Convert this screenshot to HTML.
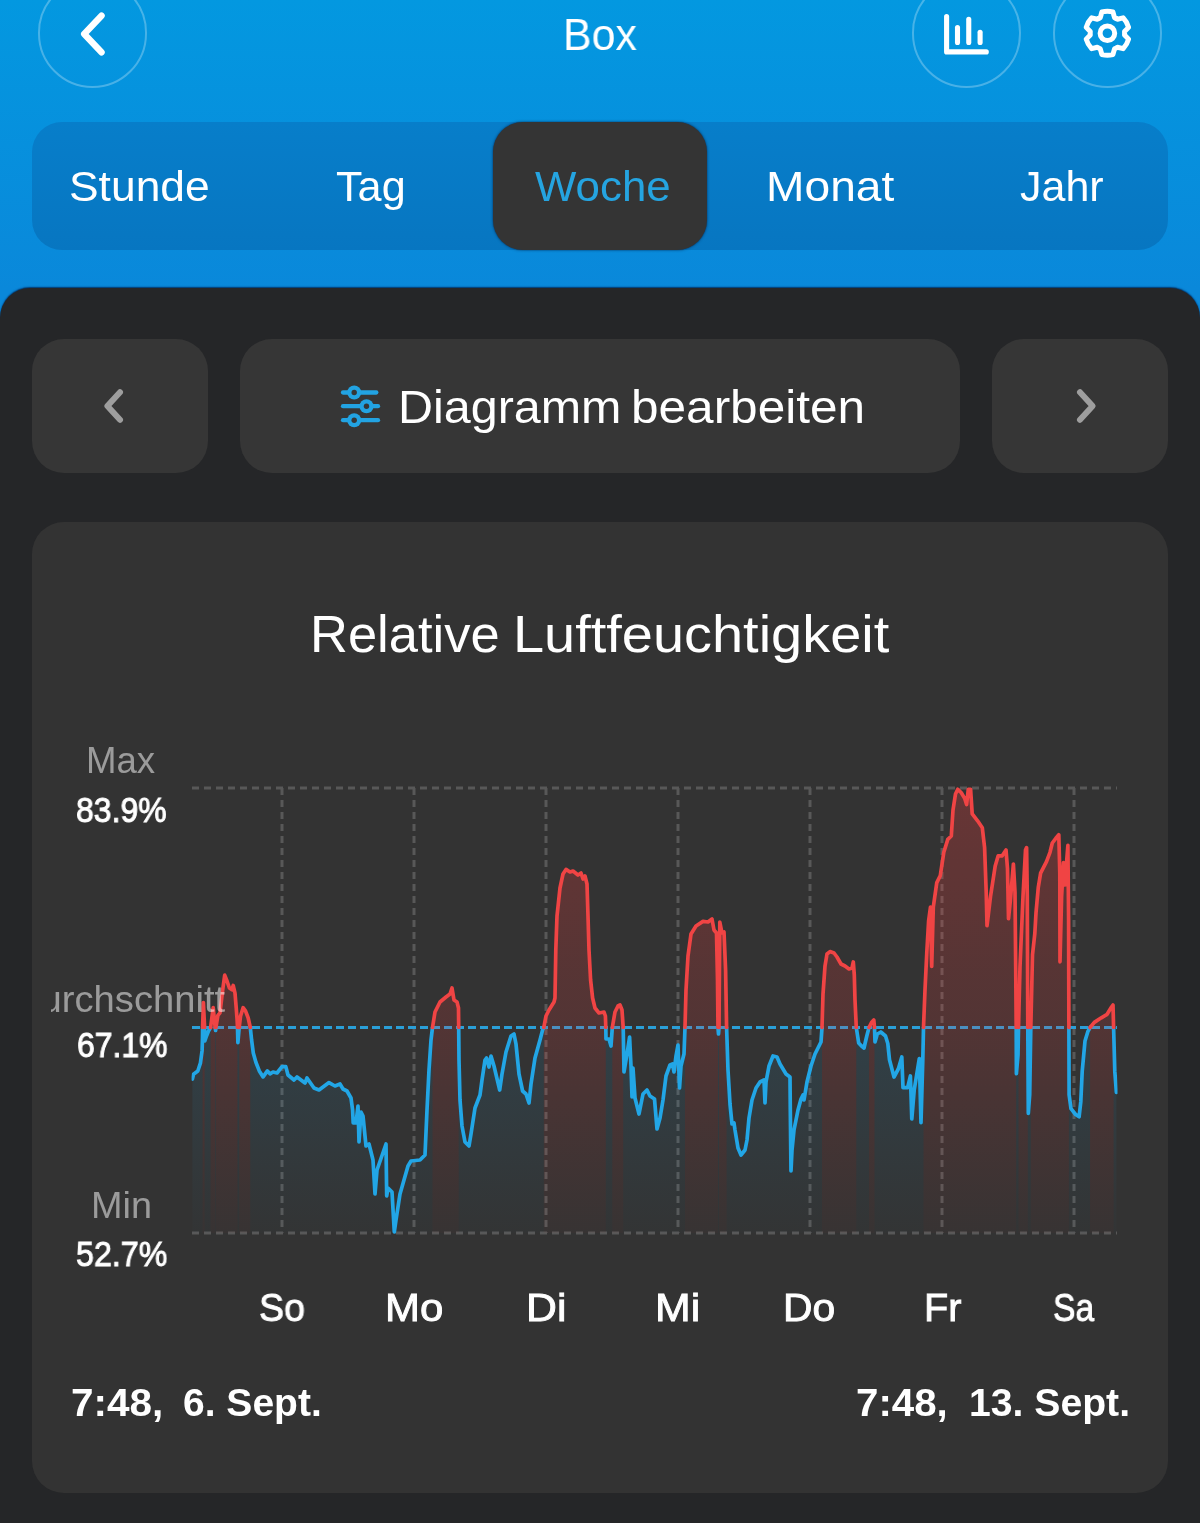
<!DOCTYPE html>
<html lang="de">
<head>
<meta charset="utf-8">
<title>Box</title>
<style>
*{box-sizing:border-box;margin:0;padding:0}
html,body{width:1200px;height:1523px;overflow:hidden}
body{position:relative;font-family:"Liberation Sans",sans-serif;color:#fff;background:linear-gradient(180deg,#0398e0 0px,#0a88da 290px,#0a88da 100%)}
.abs{position:absolute}
.x{position:absolute;white-space:pre;line-height:1;transform-origin:0 0;will-change:transform}
.circ{position:absolute;width:109.6px;height:109.6px;border-radius:50%;border:2px solid rgba(255,255,255,.27);top:-21.8px}
.tabs{position:absolute;left:32px;top:122px;width:1136px;height:128px;border-radius:30px;background:linear-gradient(180deg,#077eca,#0776c1)}
.tabsel{position:absolute;left:493.300px;top:122px;width:213.500px;height:128px;border-radius:30px;background:#343434;box-shadow:0 0 2.5px rgba(0,25,60,.85)}
.panel{position:absolute;left:0;top:288px;width:1200px;height:1300px;border-radius:30px 30px 0 0;background:#252628;box-shadow:0 -1px 1.5px rgba(0,25,70,.75)}
.btn{position:absolute;top:339px;height:134px;border-radius:32px;background:#363636}
.card{position:absolute;left:32px;top:522px;width:1136px;height:971px;border-radius:32px;background:#333333}
svg{position:absolute;left:0;top:0;overflow:visible}
</style>
</head>
<body>

<!-- header -->
<div class="circ" style="left:37.800px"></div>
<div class="circ" style="left:911.700px"></div>
<div class="circ" style="left:1052.700px"></div>
<svg width="1200" height="120" viewBox="0 0 1200 120">
  <path d="M101.500 15.700 L84.200 33.900 L101.500 52.300" fill="none" stroke="#fff" stroke-width="6.500" stroke-linecap="round" stroke-linejoin="round"/>
  <!-- bar chart icon -->
  <g fill="none" stroke="#fff" stroke-width="5.100" stroke-linecap="round" stroke-linejoin="round">
    <path d="M946.600 16.600 V51.900 H986.300"/>
    <path d="M957.500 27.600 V42.400"/><path d="M968.750 19.400 V42.400"/><path d="M980.100 32.300 V42.400"/>
  </g>
  <!-- gear icon -->
  <g transform="translate(1107.400 33.250)" fill="none" stroke="#fff" stroke-width="5" stroke-linejoin="round">
    <circle r="7.300"/>
    <path d="M7.13 -15.65 L5.51 -21.30 A22.00 22.00 0 0 0 -5.51 -21.30 L-7.13 -15.65 A17.20 17.20 0 0 0 -9.99 -14.00 L-15.69 -15.42 A22.00 22.00 0 0 0 -21.20 -5.88 L-17.12 -1.65 A17.20 17.20 0 0 0 -17.12 1.65 L-21.20 5.88 A22.00 22.00 0 0 0 -15.69 15.42 L-9.99 14.00 A17.20 17.20 0 0 0 -7.13 15.65 L-5.51 21.30 A22.00 22.00 0 0 0 5.51 21.30 L7.13 15.65 A17.20 17.20 0 0 0 9.99 14.00 L15.69 15.42 A22.00 22.00 0 0 0 21.20 5.88 L17.12 1.65 A17.20 17.20 0 0 0 17.12 -1.65 L21.20 -5.88 A22.00 22.00 0 0 0 15.69 -15.42 L9.99 -14.00 A17.20 17.20 0 0 0 7.13 -15.65 Z"/>
  </g>
</svg>

<!-- tabs -->
<div class="tabs"></div>
<div class="tabsel"></div>

<!-- dark panel -->
<div class="panel"></div>
<div class="btn" style="left:32px;width:176px"></div>
<div class="btn" style="left:240px;width:720px"></div>
<div class="btn" style="left:992px;width:176px"></div>
<svg width="1200" height="600" viewBox="0 0 1200 600">
  <path d="M120 392.300 L107.400 406 L120 419.700" fill="none" stroke="#9e9e9e" stroke-width="6" stroke-linecap="round" stroke-linejoin="round"/>
  <path d="M1080 392.300 L1092.600 406 L1080 419.700" fill="none" stroke="#9e9e9e" stroke-width="6" stroke-linecap="round" stroke-linejoin="round"/>
  <!-- sliders icon -->
  <g fill="none" stroke="#22a3e2" stroke-width="4.300" stroke-linecap="round">
    <path d="M343 392.500 H376.300"/><path d="M343 406.200 H378"/><path d="M343 420.200 H378"/>
  </g>
  <g fill="#22a3e2"><circle cx="354.200" cy="392.500" r="7"/><circle cx="366.500" cy="406.200" r="7"/><circle cx="354.200" cy="420.200" r="7"/></g>
  <g fill="#363636"><circle cx="354.200" cy="392.500" r="2.700"/><circle cx="366.500" cy="406.200" r="2.700"/><circle cx="354.200" cy="420.200" r="2.700"/></g>
</svg>

<!-- card -->
<div class="card"></div>


<svg class="chart" width="1200" height="1523" viewBox="0 0 1200 1523">
<defs>
<linearGradient id="gr" x1="0" y1="788.0" x2="0" y2="1233.0" gradientUnits="userSpaceOnUse"><stop offset="0" stop-color="#ff3c3c" stop-opacity=".26"/><stop offset=".55" stop-color="#ff3c3c" stop-opacity=".15"/><stop offset="1" stop-color="#ff3c3c" stop-opacity=".02"/></linearGradient>
<linearGradient id="gb" x1="0" y1="1027.5" x2="0" y2="1233.0" gradientUnits="userSpaceOnUse"><stop offset="0" stop-color="#1fa6e6" stop-opacity=".115"/><stop offset="1" stop-color="#1fa6e6" stop-opacity=".01"/></linearGradient>
<clipPath id="cc"><rect x="191.6" y="780" width="925.9" height="460"/></clipPath>
</defs>
<g fill="none" stroke="#585858" stroke-width="3" stroke-dasharray="7 5"><path d="M282 788 V1233"/><path d="M414 788 V1233"/><path d="M546 788 V1233"/><path d="M678 788 V1233"/><path d="M810 788 V1233"/><path d="M942 788 V1233"/><path d="M1074 788 V1233"/><path d="M192.0 788.0 H1117.0"/><path d="M192.0 1233.0 H1117.0"/></g>
<path d="M192.0 1027.5 H1117.0" fill="none" stroke="#2a9fd8" stroke-width="3.200" stroke-dasharray="8 4"/>
<g clip-path="url(#cc)">
<path d="M202.6 1027.5 L203.4 1002.6 L204.6 1027.5 L204.6 1027.5 L204.6 1233 L202.6 1233 Z M210.6 1027.5 L213.2 1007.7 L215.2 1027.5 L215.2 1233 L210.6 1233 Z M215.9 1027.5 L216 1027 L217.9 1015.4 L220 1012.8 L222.6 990.6 L224.7 975.2 L226.8 980.4 L229.4 988 L232 989.8 L233.2 985.5 L235 993.2 L236.2 1007.7 L237.1 1019.7 L237.5 1027.5 L237.5 1027.5 L237.5 1233 L215.9 1233 Z M239.2 1027.5 L240.5 1016.2 L243.1 1007.7 L245.6 1011.1 L248.2 1018 L250.3 1027.5 L250.3 1027.5 L250.3 1233 L239.2 1233 Z M432.5 1027.5 L435 1012 L440 1002 L446 997 L450 994 L452 988 L454 1000 L457 1002 L458.5 1008 L458.7 1027.5 L458.7 1027.5 L458.7 1233 L432.5 1233 Z M543.8 1027.5 L546 1016 L549 1010 L554 1002 L555 998 L555.8 950 L557 916 L560 888 L563 874 L566 869.4 L570 872 L573 871 L578 875 L581 873 L583 879 L585 876 L587 884 L588 916 L589 950 L590.6 980 L592.6 998 L595 1008 L599 1013 L604 1012 L605.4 1016 L605.8 1027.5 L605.8 1027.5 L605.8 1233 L543.8 1233 Z M612.3 1027.5 L615 1012 L618 1006 L620 1005 L622 1010 L623.2 1027.5 L623.2 1027.5 L623.2 1233 L612.3 1233 Z M685 1027.5 L686 990 L688 956 L691 934 L696 926 L703 921.4 L708 922 L712 919 L714 930 L716.5 933 L717.5 980 L718 1027.5 L718 1027.5 L718 1233 L685 1233 Z M719 1027.5 L719.8 922 L722 933 L724 932 L725.6 970 L726.6 1027.5 L726.6 1027.5 L726.6 1233 L719 1233 Z M822 1027.5 L823 994 L825 966 L827 954 L830 951.6 L834 953 L837 957 L841 964 L845 966 L849 969 L852 968 L853.3 962 L854.3 975 L855 1000 L856.3 1027.5 L856.3 1027.5 L856.3 1233 L822 1233 Z M869 1027.5 L871.5 1022.5 L873.8 1020 L874.5 1027.5 L874.5 1027.5 L874.5 1233 L869 1233 Z M923.5 1027.5 L925 990 L926.8 952.5 L928.6 921 L930.5 907 L931.7 966.5 L933.3 907 L936.8 882.6 L940.3 875.6 L943.8 852.3 L947.8 839.4 L951.3 836 L953 810 L955.5 794 L957.8 789.3 L961.3 792.8 L964.8 798.6 L966.6 804.5 L968.3 789.3 L970.6 789.3 L972.2 813.8 L977.6 820.8 L982.3 827.8 L984.6 847.6 L986.2 892 L987 925.7 L990.5 896.5 L995.2 866 L998.2 855.8 L1002.2 855.8 L1006 850 L1007.5 868.6 L1008.5 918.7 L1010.3 901 L1013.4 864 L1015 892 L1015.7 966.5 L1016.2 1027.5 L1016.2 1027.5 L1016.2 1233 L923.5 1233 Z M1018.5 1027.5 L1020 966.5 L1023 896.5 L1025.5 850 L1026.6 847.6 L1027.3 896.5 L1027.8 1027.5 L1027.8 1027.5 L1027.8 1233 L1018.5 1233 Z M1030.8 1027.5 L1032.5 954.8 L1034.8 933.8 L1036 912.9 L1038.3 887.2 L1040.6 873.2 L1046.5 861.6 L1050 852.3 L1052.3 843 L1055.8 838.3 L1058.8 834.8 L1059.8 873.2 L1060 961.8 L1061.6 896.5 L1063.5 862.7 L1065.1 885 L1066.8 859.3 L1067.9 845.3 L1068.6 920 L1068.9 1027.5 L1068.9 1027.5 L1068.9 1233 L1030.8 1233 Z M1090.1 1027.5 L1094.3 1022.4 L1101.3 1017.8 L1107.1 1014.3 L1110.6 1008.4 L1113 1005 L1113.6 1027.5 L1113.6 1027.5 L1113.6 1233 L1090.1 1233 Z" fill="url(#gr)"/>
<path d="M192.4 1079 L193.5 1074.3 L197.8 1071 L200.4 1063.2 L202.1 1050.4 L202.5 1037.6 L202.6 1027.5 L202.6 1027.5 L202.6 1233 L192.4 1233 Z M204.6 1027.5 L204.8 1041 L206.5 1036 L208.5 1031 L210.6 1027.5 L210.6 1027.5 L210.6 1233 L204.6 1233 Z M215.2 1027.5 L215.3 1028.2 L215.6 1030.5 L215.9 1027.5 L215.9 1233 L215.2 1233 Z M237.5 1027.5 L237.9 1042.7 L239.2 1027.5 L239.2 1027.5 L239.2 1233 L237.5 1233 Z M250.3 1027.5 L251.6 1040.1 L253.3 1053 L255.9 1062.3 L259.3 1070.9 L263.1 1076.9 L267.4 1070.9 L270 1073.8 L273 1072 L277 1073 L282 1066.6 L285.8 1066.6 L288 1075 L294 1080 L297 1077 L305 1083 L307 1078 L314 1088 L319 1090 L329 1082.6 L335 1086 L340 1084 L343 1089 L347 1091 L351 1098 L352.6 1110 L353.2 1123 L356 1123 L358 1106 L359 1142 L361 1112 L363 1116 L366 1146 L369 1144 L373 1160 L375 1194 L377 1170 L386 1144 L386.7 1196 L388 1188 L392 1192 L394.3 1232 L396 1220 L400 1194 L408 1166 L411 1161 L420 1160 L425 1155 L427 1110 L429 1070 L431 1040 L432.5 1027.5 L432.5 1027.5 L432.5 1233 L250.3 1233 Z M458.7 1027.5 L459 1060 L460 1100 L462 1126 L465 1142 L469 1146 L471 1134 L475 1108 L480 1095 L482 1080 L485 1060 L486.5 1058 L489 1067 L491 1056 L494 1066 L499.7 1090 L502 1074 L506 1052 L511 1036 L514 1034 L516 1044 L519 1074 L522.6 1091 L526 1094 L529 1103 L531 1084 L535 1058 L540 1040 L542.6 1030 L543.8 1027.5 L543.8 1027.5 L543.8 1233 L458.7 1233 Z M605.8 1027.5 L606 1039 L609 1039 L611 1046 L612.3 1027.5 L612.3 1027.5 L612.3 1233 L605.8 1233 Z M623.2 1027.5 L624 1072 L627 1054 L629.6 1037 L631 1066 L632 1097 L633 1068 L635 1098 L639 1114 L643 1094 L647 1090 L650 1096 L654.5 1099 L657 1129 L660 1118 L663 1100 L666 1076 L670 1065 L672.5 1064 L674 1072 L676 1056 L678 1045 L679.5 1088 L681 1066 L684 1054 L685 1027.5 L685 1027.5 L685 1233 L623.2 1233 Z M718 1027.5 L718.5 1034 L719 1027.5 L719 1027.5 L719 1233 L718 1233 Z M726.6 1027.5 L728 1070 L730 1104 L732 1124 L734 1123 L735 1130 L738 1148 L741 1155 L745 1150 L747 1140 L749 1118 L752 1100 L756 1088 L760 1082 L764 1080 L765 1103 L766 1082 L769 1066 L773 1056 L777 1057 L780 1064 L786 1074 L790 1077 L790.3 1110 L791 1171 L792 1150 L794 1130 L798 1110 L801 1099 L803 1095 L804 1100 L807 1082 L811 1066 L815 1054 L821 1042 L822 1027.5 L822 1027.5 L822 1233 L726.6 1233 Z M856.3 1027.5 L858.7 1043 L861.5 1046 L864 1048 L866.8 1036 L869 1027.5 L869 1027.5 L869 1233 L856.3 1233 Z M874.5 1027.5 L875 1042 L877.3 1034 L880.8 1032 L885.5 1036 L887.8 1043.5 L889.5 1059.7 L894 1077 L898.3 1069 L901.8 1057 L903 1087.7 L907.6 1087.7 L910.4 1076 L911.8 1119 L914.2 1090 L919.3 1058.5 L921 1122.7 L922.8 1059.7 L923.5 1027.5 L923.5 1027.5 L923.5 1233 L874.5 1233 Z M1016.2 1027.5 L1016.4 1073.7 L1018 1055 L1018.5 1027.5 L1018.5 1027.5 L1018.5 1233 L1016.2 1233 Z M1027.8 1027.5 L1028.3 1113.3 L1029.7 1094.7 L1030.8 1027.5 L1030.8 1027.5 L1030.8 1233 L1027.8 1233 Z M1068.9 1027.5 L1069.1 1094.7 L1071 1108.7 L1075.6 1114.5 L1079.1 1116.8 L1080.8 1101.7 L1082.2 1071.4 L1085 1041 L1087.8 1031.7 L1090.1 1027.5 L1090.1 1027.5 L1090.1 1233 L1068.9 1233 Z M1113.6 1027.5 L1114.8 1071.4 L1116.4 1092.4 L1116.4 1233 L1113.6 1233 Z" fill="url(#gb)"/>
<path d="M192.4 1079 L193.5 1074.3 L197.8 1071 L200.4 1063.2 L202.1 1050.4 L202.5 1037.6 L202.6 1027.5 L202.6 1027.5 M204.6 1027.5 L204.8 1041 L206.5 1036 L208.5 1031 L210.6 1027.5 L210.6 1027.5 M215.2 1027.5 L215.3 1028.2 L215.6 1030.5 L215.9 1027.5 M237.5 1027.5 L237.9 1042.7 L239.2 1027.5 L239.2 1027.5 M250.3 1027.5 L251.6 1040.1 L253.3 1053 L255.9 1062.3 L259.3 1070.9 L263.1 1076.9 L267.4 1070.9 L270 1073.8 L273 1072 L277 1073 L282 1066.6 L285.8 1066.6 L288 1075 L294 1080 L297 1077 L305 1083 L307 1078 L314 1088 L319 1090 L329 1082.6 L335 1086 L340 1084 L343 1089 L347 1091 L351 1098 L352.6 1110 L353.2 1123 L356 1123 L358 1106 L359 1142 L361 1112 L363 1116 L366 1146 L369 1144 L373 1160 L375 1194 L377 1170 L386 1144 L386.7 1196 L388 1188 L392 1192 L394.3 1232 L396 1220 L400 1194 L408 1166 L411 1161 L420 1160 L425 1155 L427 1110 L429 1070 L431 1040 L432.5 1027.5 L432.5 1027.5 M458.7 1027.5 L459 1060 L460 1100 L462 1126 L465 1142 L469 1146 L471 1134 L475 1108 L480 1095 L482 1080 L485 1060 L486.5 1058 L489 1067 L491 1056 L494 1066 L499.7 1090 L502 1074 L506 1052 L511 1036 L514 1034 L516 1044 L519 1074 L522.6 1091 L526 1094 L529 1103 L531 1084 L535 1058 L540 1040 L542.6 1030 L543.8 1027.5 L543.8 1027.5 M605.8 1027.5 L606 1039 L609 1039 L611 1046 L612.3 1027.5 L612.3 1027.5 M623.2 1027.5 L624 1072 L627 1054 L629.6 1037 L631 1066 L632 1097 L633 1068 L635 1098 L639 1114 L643 1094 L647 1090 L650 1096 L654.5 1099 L657 1129 L660 1118 L663 1100 L666 1076 L670 1065 L672.5 1064 L674 1072 L676 1056 L678 1045 L679.5 1088 L681 1066 L684 1054 L685 1027.5 L685 1027.5 M718 1027.5 L718.5 1034 L719 1027.5 L719 1027.5 M726.6 1027.5 L728 1070 L730 1104 L732 1124 L734 1123 L735 1130 L738 1148 L741 1155 L745 1150 L747 1140 L749 1118 L752 1100 L756 1088 L760 1082 L764 1080 L765 1103 L766 1082 L769 1066 L773 1056 L777 1057 L780 1064 L786 1074 L790 1077 L790.3 1110 L791 1171 L792 1150 L794 1130 L798 1110 L801 1099 L803 1095 L804 1100 L807 1082 L811 1066 L815 1054 L821 1042 L822 1027.5 L822 1027.5 M856.3 1027.5 L858.7 1043 L861.5 1046 L864 1048 L866.8 1036 L869 1027.5 L869 1027.5 M874.5 1027.5 L875 1042 L877.3 1034 L880.8 1032 L885.5 1036 L887.8 1043.5 L889.5 1059.7 L894 1077 L898.3 1069 L901.8 1057 L903 1087.7 L907.6 1087.7 L910.4 1076 L911.8 1119 L914.2 1090 L919.3 1058.5 L921 1122.7 L922.8 1059.7 L923.5 1027.5 L923.5 1027.5 M1016.2 1027.5 L1016.4 1073.7 L1018 1055 L1018.5 1027.5 L1018.5 1027.5 M1027.8 1027.5 L1028.3 1113.3 L1029.7 1094.7 L1030.8 1027.5 L1030.8 1027.5 M1068.9 1027.5 L1069.1 1094.7 L1071 1108.7 L1075.6 1114.5 L1079.1 1116.8 L1080.8 1101.7 L1082.2 1071.4 L1085 1041 L1087.8 1031.7 L1090.1 1027.5 L1090.1 1027.5 M1113.6 1027.5 L1114.8 1071.4 L1116.4 1092.4" fill="none" stroke="#22a6e6" stroke-width="3.700" stroke-linejoin="round" stroke-linecap="round"/>
<path d="M202.6 1027.5 L203.4 1002.6 L204.6 1027.5 L204.6 1027.5 M210.6 1027.5 L213.2 1007.7 L215.2 1027.5 M215.9 1027.5 L216 1027 L217.9 1015.4 L220 1012.8 L222.6 990.6 L224.7 975.2 L226.8 980.4 L229.4 988 L232 989.8 L233.2 985.5 L235 993.2 L236.2 1007.7 L237.1 1019.7 L237.5 1027.5 L237.5 1027.5 M239.2 1027.5 L240.5 1016.2 L243.1 1007.7 L245.6 1011.1 L248.2 1018 L250.3 1027.5 L250.3 1027.5 M432.5 1027.5 L435 1012 L440 1002 L446 997 L450 994 L452 988 L454 1000 L457 1002 L458.5 1008 L458.7 1027.5 L458.7 1027.5 M543.8 1027.5 L546 1016 L549 1010 L554 1002 L555 998 L555.8 950 L557 916 L560 888 L563 874 L566 869.4 L570 872 L573 871 L578 875 L581 873 L583 879 L585 876 L587 884 L588 916 L589 950 L590.6 980 L592.6 998 L595 1008 L599 1013 L604 1012 L605.4 1016 L605.8 1027.5 L605.8 1027.5 M612.3 1027.5 L615 1012 L618 1006 L620 1005 L622 1010 L623.2 1027.5 L623.2 1027.5 M685 1027.5 L686 990 L688 956 L691 934 L696 926 L703 921.4 L708 922 L712 919 L714 930 L716.5 933 L717.5 980 L718 1027.5 L718 1027.5 M719 1027.5 L719.8 922 L722 933 L724 932 L725.6 970 L726.6 1027.5 L726.6 1027.5 M822 1027.5 L823 994 L825 966 L827 954 L830 951.6 L834 953 L837 957 L841 964 L845 966 L849 969 L852 968 L853.3 962 L854.3 975 L855 1000 L856.3 1027.5 L856.3 1027.5 M869 1027.5 L871.5 1022.5 L873.8 1020 L874.5 1027.5 L874.5 1027.5 M923.5 1027.5 L925 990 L926.8 952.5 L928.6 921 L930.5 907 L931.7 966.5 L933.3 907 L936.8 882.6 L940.3 875.6 L943.8 852.3 L947.8 839.4 L951.3 836 L953 810 L955.5 794 L957.8 789.3 L961.3 792.8 L964.8 798.6 L966.6 804.5 L968.3 789.3 L970.6 789.3 L972.2 813.8 L977.6 820.8 L982.3 827.8 L984.6 847.6 L986.2 892 L987 925.7 L990.5 896.5 L995.2 866 L998.2 855.8 L1002.2 855.8 L1006 850 L1007.5 868.6 L1008.5 918.7 L1010.3 901 L1013.4 864 L1015 892 L1015.7 966.5 L1016.2 1027.5 L1016.2 1027.5 M1018.5 1027.5 L1020 966.5 L1023 896.5 L1025.5 850 L1026.6 847.6 L1027.3 896.5 L1027.8 1027.5 L1027.8 1027.5 M1030.8 1027.5 L1032.5 954.8 L1034.8 933.8 L1036 912.9 L1038.3 887.2 L1040.6 873.2 L1046.5 861.6 L1050 852.3 L1052.3 843 L1055.8 838.3 L1058.8 834.8 L1059.8 873.2 L1060 961.8 L1061.6 896.5 L1063.5 862.7 L1065.1 885 L1066.8 859.3 L1067.9 845.3 L1068.6 920 L1068.9 1027.5 L1068.9 1027.5 M1090.1 1027.5 L1094.3 1022.4 L1101.3 1017.8 L1107.1 1014.3 L1110.6 1008.4 L1113 1005 L1113.6 1027.5 L1113.6 1027.5" fill="none" stroke="#f04444" stroke-width="3.700" stroke-linejoin="round" stroke-linecap="round"/>
</g>
</svg>



<div class="x" style="left:563.26px;top:12.81px;font-size:43.7px;color:#fff;transform:scaleX(0.9802);">Box</div>
<div class="x" style="left:68.94px;top:165.53px;font-size:41.9px;color:#fff;transform:scaleX(1.0600);">Stunde</div>
<div class="x" style="left:336.00px;top:165.53px;font-size:41.9px;color:#fff;transform:scaleX(1.0315);">Tag</div>
<div class="x" style="left:534.70px;top:165.53px;font-size:41.9px;color:#25a4e0;transform:scaleX(1.0466);">Woche</div>
<div class="x" style="left:765.99px;top:165.53px;font-size:41.9px;color:#fff;transform:scaleX(1.1020);">Monat</div>
<div class="x" style="left:1020.00px;top:165.53px;font-size:41.9px;color:#fff;transform:scaleX(1.0265);">Jahr</div>
<div class="x" style="left:397.67px;top:383.94px;font-size:46.5px;color:#fff;transform:scaleX(1.0421);">Diagramm</div>
<div class="x" style="left:631.01px;top:383.94px;font-size:46.5px;color:#fff;transform:scaleX(1.0650);">bearbeiten</div>
<div class="x" style="left:309.69px;top:608.74px;font-size:51.7px;color:#fff;transform:scaleX(1.0152);">Relative</div>
<div class="x" style="left:513.17px;top:608.74px;font-size:51.7px;color:#fff;transform:scaleX(1.0821);">Luftfeuchtigkeit</div>
<div class="x" style="left:85.97px;top:743.33px;font-size:36.0px;color:rgba(255,255,255,.51);transform:scaleX(1.0165);">Max</div>
<div class="x" style="left:76.39px;top:792.20px;font-size:35.2px;color:#fff;transform:scaleX(0.9078);-webkit-text-stroke:1px #fff;">83.9%</div>
<div class="abs" style="left:50.8px;top:960px;width:300px;height:80px;overflow:hidden"><div class="x" style="left:-37.43px;top:21.52px;font-size:36.6px;color:rgba(255,255,255,.51);transform:scaleX(1.0433);">Durchschnitt</div></div>
<div class="x" style="left:76.57px;top:1028.05px;font-size:34.2px;color:#fff;transform:scaleX(0.9337);-webkit-text-stroke:1px #fff;">67.1%</div>
<div class="x" style="left:90.90px;top:1188.33px;font-size:36.0px;color:rgba(255,255,255,.51);transform:scaleX(1.0503);">Min</div>
<div class="x" style="left:76.38px;top:1237.46px;font-size:34.9px;color:#fff;transform:scaleX(0.9225);-webkit-text-stroke:1px #fff;">52.7%</div>
<div class="x" style="left:259.05px;top:1287.69px;font-size:39.7px;color:#fff;transform:scaleX(0.9468);-webkit-text-stroke:.9px #fff;">So</div>
<div class="x" style="left:384.83px;top:1287.69px;font-size:39.7px;color:#fff;transform:scaleX(1.0576);-webkit-text-stroke:.9px #fff;">Mo</div>
<div class="x" style="left:525.57px;top:1287.69px;font-size:39.7px;color:#fff;transform:scaleX(1.0777);-webkit-text-stroke:.9px #fff;">Di</div>
<div class="x" style="left:654.76px;top:1287.69px;font-size:39.7px;color:#fff;transform:scaleX(1.0793);-webkit-text-stroke:.9px #fff;">Mi</div>
<div class="x" style="left:783.31px;top:1287.69px;font-size:39.7px;color:#fff;transform:scaleX(1.0287);-webkit-text-stroke:.9px #fff;">Do</div>
<div class="x" style="left:923.53px;top:1287.69px;font-size:39.7px;color:#fff;transform:scaleX(0.9900);-webkit-text-stroke:.9px #fff;">Fr</div>
<div class="x" style="left:1052.55px;top:1287.69px;font-size:39.7px;color:#fff;transform:scaleX(0.8479);-webkit-text-stroke:.9px #fff;">Sa</div>
<div class="x" style="left:70.95px;top:1384.49px;font-size:38.4px;color:#fff;transform:scaleX(1.0550);font-weight:bold;">7:48,</div>
<div class="x" style="left:183.48px;top:1384.49px;font-size:38.4px;color:#fff;transform:scaleX(1.0159);font-weight:bold;">6. Sept.</div>
<div class="x" style="left:855.95px;top:1384.49px;font-size:38.4px;color:#fff;transform:scaleX(1.0491);font-weight:bold;">7:48,</div>
<div class="x" style="left:968.96px;top:1384.49px;font-size:38.4px;color:#fff;transform:scaleX(1.0199);font-weight:bold;">13. Sept.</div>
</body>
</html>
